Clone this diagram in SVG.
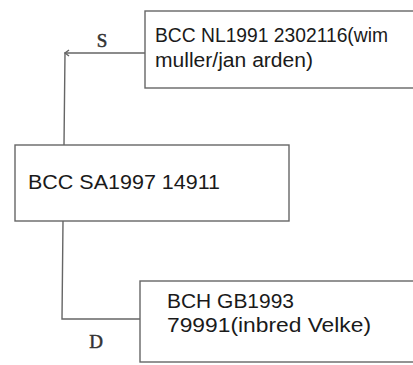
<svg xmlns="http://www.w3.org/2000/svg" width="413" height="365" viewBox="0 0 413 365">
<style>
.box{fill:none;stroke:#666;stroke-width:1.4}
.conn{fill:none;stroke:#666;stroke-width:1.4}
.t{font-family:"Liberation Sans",Arial,sans-serif;font-size:20px;fill:#1a1a1a}
.h{font-family:"Liberation Serif","Times New Roman",serif;font-size:19px;fill:#333;stroke:#333;stroke-width:0.5}
</style>
<rect width="413" height="365" fill="#fff"/>
<g id="connectors">
<polyline class="conn" points="145,53 65,53 64,145"/>
<polyline class="conn" points="69,50 65,53 69,56"/>
<text class="h" x="102" y="47" text-anchor="middle">S</text>
<polyline class="conn" points="63,221 62,319 140,319"/>
<text class="h" x="96" y="348" text-anchor="middle">D</text>
</g>
<g id="n1">
<rect class="box" x="145" y="11" width="280" height="77"/>
<text class="t" x="155" y="42" textLength="233" lengthAdjust="spacingAndGlyphs">BCC NL1991 2302116(wim</text>
<text class="t" x="155" y="67" textLength="158" lengthAdjust="spacingAndGlyphs">muller/jan arden)</text>
</g>
<g id="n2">
<rect class="box" x="15" y="145" width="274" height="76"/>
<text class="t" x="28" y="189" textLength="192" lengthAdjust="spacingAndGlyphs">BCC SA1997 14911</text>
</g>
<g id="n3">
<rect class="box" x="140" y="281" width="285" height="81"/>
<text class="t" x="167" y="308" textLength="127" lengthAdjust="spacingAndGlyphs">BCH GB1993</text>
<text class="t" x="167" y="332" textLength="204" lengthAdjust="spacingAndGlyphs">79991(inbred Velke)</text>
</g>
</svg>
